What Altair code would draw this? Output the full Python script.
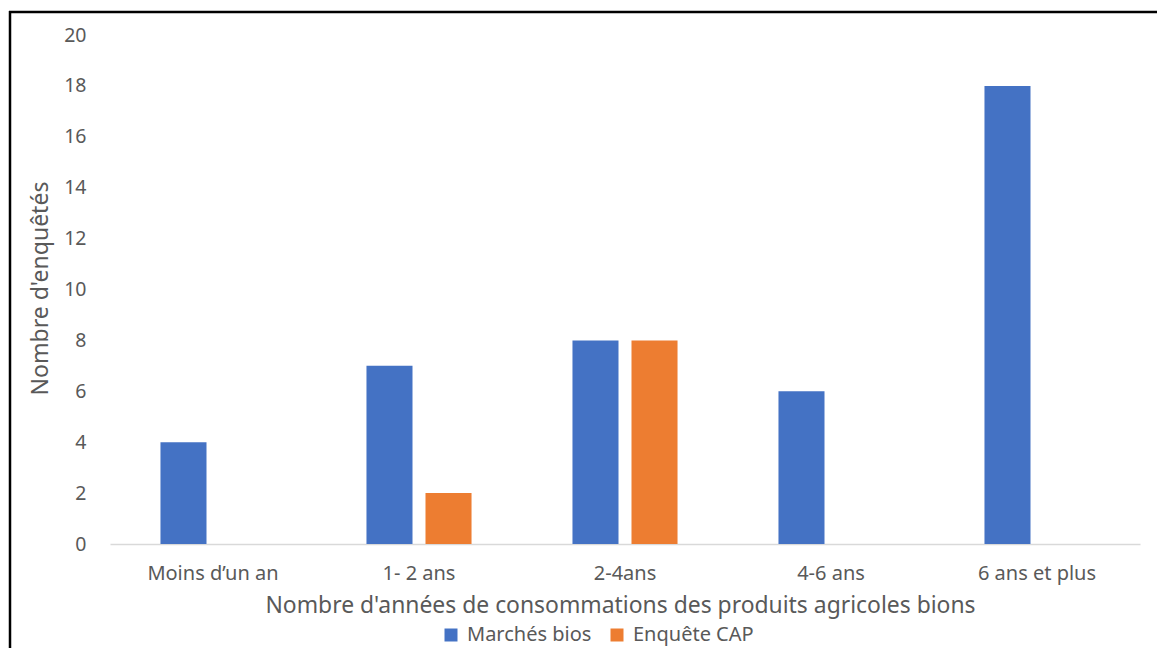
import altair as alt
import pandas as pd

categories = ["Moins d\u2019un an", "1- 2 ans", "2-4ans", "4-6 ans", "6 ans et plus"]
series_names = ["March\u00e9s bios", "Enqu\u00eate CAP"]
marches_bios = [4, 7, 8, 6, 18]
enquete_cap = [0, 2, 8, 0, 0]
y_ticks = list(range(0, 21, 2))

rows = []
for c, a, b in zip(categories, marches_bios, enquete_cap):
    rows.append({"cat": c, "serie": series_names[0], "val": a})
    rows.append({"cat": c, "serie": series_names[1], "val": b})
df = pd.DataFrame(rows)

FONT = "Noto Sans"
TXT = "#595959"

bars = alt.Chart(df).mark_bar().encode(
    x=alt.X("cat:N", sort=categories,
            scale=alt.Scale(paddingInner=0.49, paddingOuter=0.245),
            axis=alt.Axis(title="Nombre d'ann\u00e9es de consommations des produits agricoles bions",
                          labelAngle=0, ticks=False, domainColor="#D9D9D9", domainWidth=1.5,
                          labelPadding=19, labelFontSize=20, labelColor=TXT, labelFont=FONT,
                          titleFontSize=22.9, titleColor=TXT, titleFont=FONT, titleFontWeight="normal",
                          titleX=510, titleAlign="center", titleY=61, titleBaseline="middle")),
    xOffset=alt.XOffset("serie:N", sort=series_names,
                        scale=alt.Scale(paddingInner=0.22, paddingOuter=0)),
    y=alt.Y("val:Q", scale=alt.Scale(domain=[0, 20]),
            axis=alt.Axis(title="Nombre d'enqu\u00eat\u00e9s", values=y_ticks, ticks=False, domain=False,
                          grid=False, labelPadding=24, labelFontSize=19.5, labelColor=TXT, labelFont=FONT,
                          titleFontSize=23, titleColor=TXT, titleFont=FONT, titleFontWeight="normal",
                          titleX=-70, titleY=253, titleAngle=270, titleBaseline="middle")),
    color=alt.Color("serie:N", sort=series_names,
                    scale=alt.Scale(domain=series_names, range=["#4472C4", "#ED7D31"]),
                    legend=alt.Legend(title=None, orient="none", direction="horizontal",
                                      legendX=331, legendY=590, symbolType="square", symbolSize=169,
                                      labelFontSize=20, labelColor=TXT, labelFont=FONT,
                                      labelOffset=6, columnPadding=15, symbolStrokeWidth=0))
)

anchor = pd.DataFrame({"k": [0]})
top_border = alt.Chart(anchor).mark_rule(color="black", strokeWidth=2.5, clip=False).encode(
    x=alt.value(-101), x2=alt.value(1047), y=alt.value(-23))
left_border = alt.Chart(anchor).mark_rule(color="black", strokeWidth=2.5, clip=False).encode(
    x=alt.value(-100), y=alt.value(-24), y2=alt.value(620))

chart = alt.layer(bars, top_border, left_border).properties(
    width=1030, height=509,
    background="white",
    autosize=alt.AutoSizeParams(type="none"),
    padding={"left": 102, "top": 27, "right": 17, "bottom": 104},
).configure_view(stroke=None, strokeWidth=0)

chart.save("out.html", embed_options={"renderer": "svg", "actions": False})
